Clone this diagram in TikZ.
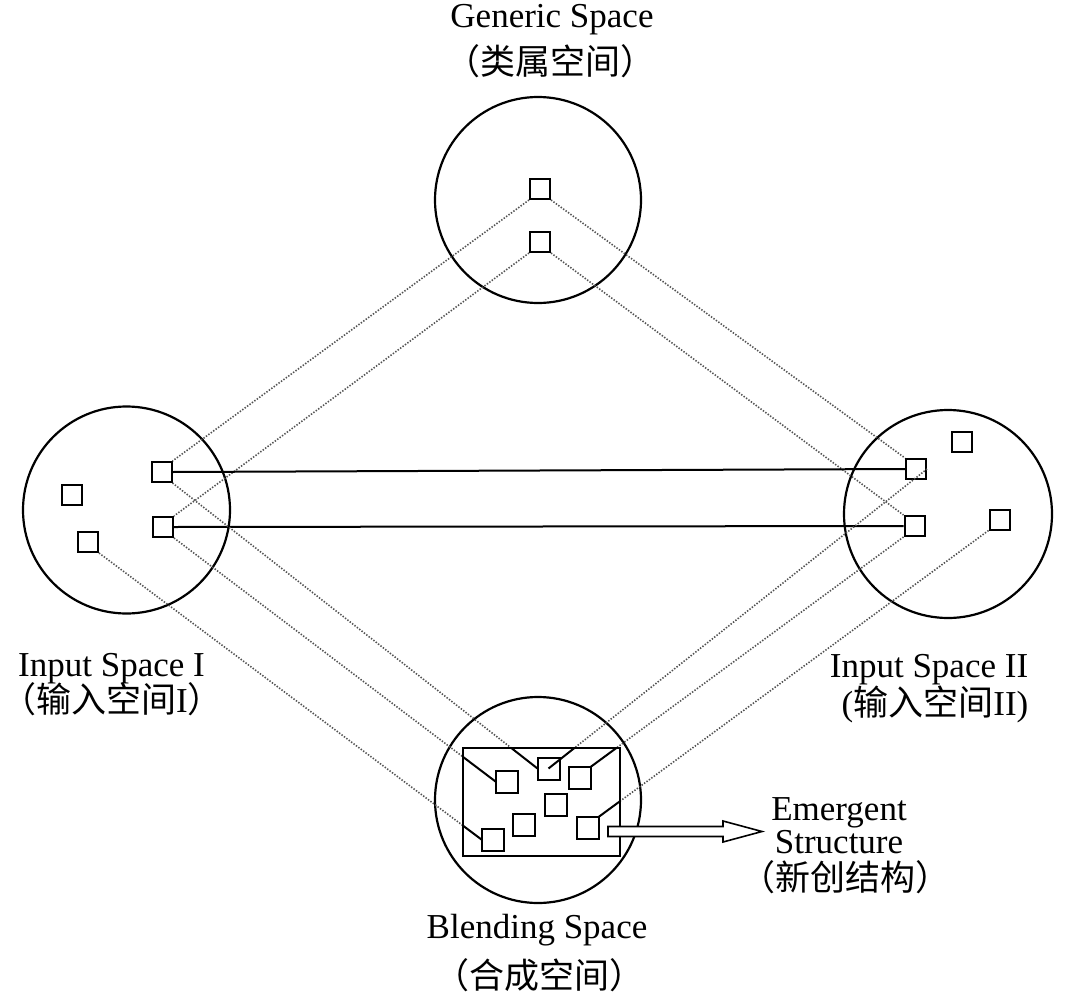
\documentclass[tikz,border=0pt]{standalone}
\usepackage{fontspec}
\setmainfont{Liberation Serif}
\newfontfamily\cjk{Noto Sans CJK SC}
\begin{document}
\begin{tikzpicture}[x=1pt,y=-1pt,
  sq/.style={draw, line width=2pt, minimum size=20pt, inner sep=0pt},
  sp/.style={circle, draw, line width=2.2pt, inner sep=0pt},
  dl/.style={draw=black!68, line width=1.6pt, dash pattern=on 1.4pt off 1.6pt},
  sl/.style={draw, line width=2pt},
  lab/.style={font=\fontsize{35}{40}\selectfont, inner sep=0pt},
  cjklab/.style={font=\fontsize{35}{40}\selectfont\cjk, inner sep=0pt}]
\useasboundingbox (0,0) rectangle (1075,1003);

% labels
\node[lab, anchor=base] (gentxt) at (552,28) {Generic Space};
\node[cjklab] (gencn) at (550,61) {（类属空间）};
\node[lab, anchor=base west] (in1txt) at (18,676) {Input Space I};
\node[cjklab, anchor=west] (in1cn) at (1,699) {（输入空间{\rmfamily I}）};
\node[lab, anchor=base] (in2txt) at (929,677) {Input Space II};
\node[lab] (in2cn) at (935,704) {({\cjk 输入空间}II)};
\node[lab, anchor=base] (bltxt) at (537,938) {Blending Space};
\node[cjklab] (blcn) at (539,975) {（合成空间）};
\node[lab, anchor=base] (em1) at (839,820) {Emergent};
\node[lab, anchor=base] (em2) at (839,853) {Structure};
\node[cjklab] (em3) at (845,877) {（新创结构）};

% spaces
\node[sp, minimum size=206pt] (G) at (538,200) {};
\node[sp, minimum size=207pt] (I1) at (126.5,510) {};
\node[sp, minimum size=208pt] (I2) at (948,514) {};
\node[sp, minimum size=206pt] (B) at (538,800) {};
\node[minimum width=157pt, minimum height=108pt, inner sep=0pt] (R) at (541.5,802) {};

% squares
\node[sq] (g1) at (540,189) {};
\node[sq] (g2) at (540,242) {};
\node[sq] (a) at (161.5,472) {};
\node[sq] (b) at (163,527) {};
\node[sq] (c) at (72,495) {};
\node[sq] (d) at (88,542) {};
\node[sq] (e) at (916,469) {};
\node[sq] (f) at (914.5,526) {};
\node[sq] (gg) at (962,442) {};
\node[sq] (h) at (999.5,519.5) {};
\node[sq, draw=none] (s1) at (506.5,781.5) {};
\node[sq, draw=none] (s2) at (548.5,768.5) {};
\node[sq, draw=none] (s3) at (579.5,778) {};
\node[sq, draw=none] (s4) at (556,804.5) {};
\node[sq, draw=none] (s5) at (523.5,824.5) {};
\node[sq, draw=none] (s6) at (492.5,839.5) {};
\node[sq, draw=none] (s7) at (587.5,828) {};

% generic to inputs
\draw[dl] (g1.south west) -- (a.north east);
\draw[dl] (g2.south west) -- (b.north east);
\draw[dl] (g1.south east) -- (e.north west);
\draw[dl] (g2.south east) -- (f.north west);

% input to input
\draw[sl] (a.east) -- (e.west);
\draw[sl] (b.east) -- (f.west);

% inputs to blend (dotted outside the frame)
\draw[dl] (a.south east) -- (s2.west);
\draw[dl] (b.south east) -- (s1.west);
\draw[dl] (d.south east) -- (s6.west);
\draw[dl] (e.east) -- (s2.center);
\draw[dl] (f.south west) -- (s3.north east);
\draw[dl] (h.south west) -- (s7.north east);

% solid parts inside the frame
\begin{scope}
\clip (R.north west) rectangle (R.south east);
\fill[white] (R.north west) rectangle (R.south east);
\draw[sl] (a.south east) -- (s2.west);
\draw[sl] (b.south east) -- (s1.west);
\draw[sl] (d.south east) -- (s6.west);
\draw[sl] (e.east) -- (s2.center);
\draw[sl] (f.south west) -- (s3.north east);
\draw[sl] (h.south west) -- (s7.north east);
\end{scope}
\draw[line width=2pt] (R.north west) rectangle (R.south east);
\foreach \n in {s1,s2,s3,s4,s5,s6,s7} {\draw[line width=2pt] (\n.north west) rectangle (\n.south east);}

% emergent arrow
\coordinate (arrstart) at (608,831.5);
\draw[line width=1.6pt, fill=white] (arrstart) ++(0,-5) -- ++(115,0) -- ++(0,-5.5) -- ++(39,10.5) -- ++(-39,10.5) -- ++(0,-5.5) -- ++(-115,0) -- cycle;
\end{tikzpicture}
\end{document}
